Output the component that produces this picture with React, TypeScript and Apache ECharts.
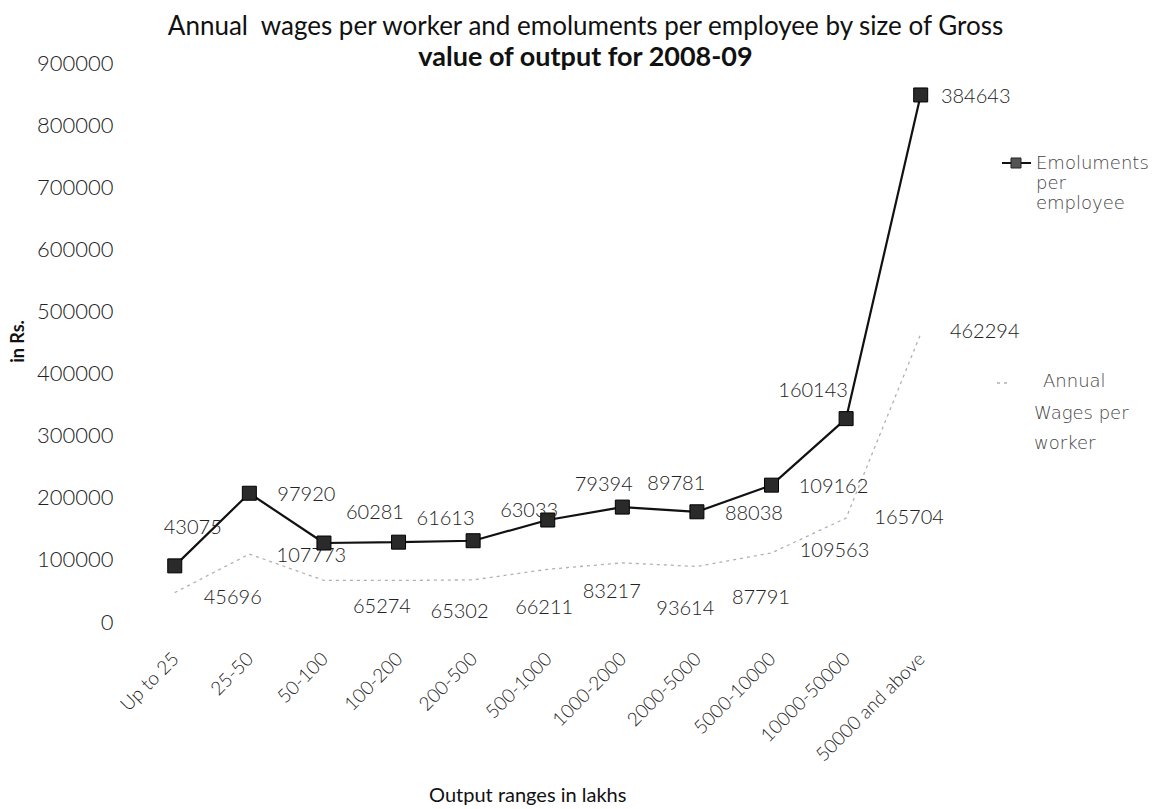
import React, { useEffect, useRef } from "react";
import * as echarts from "echarts";

const categories = [
  "Up to 25",
  "25-50",
  "50-100",
  "100-200",
  "200-500",
  "500-1000",
  "1000-2000",
  "2000-5000",
  "5000-10000",
  "10000-50000",
  "50000 and above",
];
const annualWages = [45696, 107773, 65274, 65302, 66211, 83217, 93614, 87791, 109563, 165704, 462294];
const emoluments = [43075, 97920, 60281, 61613, 63033, 79394, 89781, 88038, 109162, 160143, 384643];
const yMin = 0;
const yMax = 900000;
const yInterval = 100000;

// label placement (layout only)
const emoLabelOffsets = [
  [18, -40], [57, 0], [51, -32], [47, -25], [56, -32], [56, -37],
  [54, -25], [57, 0], [62, 0], [-33, -30], [55, 0],
];
const wageLabelOffsets = [
  [58, 3], [62, 0], [58, 25], [61, 30], [71, 26], [64, 21],
  [63, 44], [64, 30], [63, -4], [63, -2], [64, -4],
];

const FONT = "Lato";
const LEG_FONT = "DejaVu Sans";

export default function App() {
  const ref = useRef<HTMLDivElement>(null);
  useEffect(() => {
    if (!ref.current) return;
    const chart = echarts.init(ref.current, undefined, { renderer: "svg" });
    const labelStyle = {
      show: true,
      position: "inside" as const,
      align: "center" as const,
      verticalAlign: "middle" as const,
      fontFamily: FONT,
      fontSize: 20,
      fontWeight: 300 as any,
      color: "#222",
    };
    chart.setOption({
      animation: false,
      backgroundColor: "#ffffff",
      title: {
        text: "Annual  wages per worker and emoluments per employee by size of Gross\n{b|value of output for 2008-09}",
        left: "center",
        top: 4,
        textStyle: {
          fontFamily: FONT,
          fontSize: 26,
          fontWeight: "normal",
          color: "#111",
          lineHeight: 31,
          rich: {
            b: { fontFamily: FONT, fontSize: 27, fontWeight: "bold", color: "#111", lineHeight: 31 },
          },
        },
      },
      grid: { left: 117, right: 213, top: 62, bottom: 181, containLabel: false },
      xAxis: {
        type: "category",
        data: categories,
        boundaryGap: true,
        axisLine: { show: false },
        axisTick: { show: false },
        splitLine: { show: false },
        axisLabel: {
          rotate: 45,
          margin: 34,
          interval: 0,
          fontFamily: FONT,
          fontSize: 19,
          fontWeight: 300,
          color: "#222",
        },
        name: "Output ranges in lakhs",
        nameLocation: "middle",
        nameGap: 163,
        nameTextStyle: {
          fontFamily: FONT,
          fontSize: 20,
          color: "#111",
          padding: [0, 40, 0, 0],
        },
      },
      yAxis: {
        type: "value",
        min: yMin,
        max: yMax,
        interval: yInterval,
        axisLine: { show: false },
        axisTick: { show: false },
        splitLine: { show: false },
        axisLabel: {
          margin: 24,
          fontFamily: FONT,
          fontSize: 22,
          fontWeight: 300,
          color: "#222",
          formatter: (v: number) => String(v),
        },
        name: "in Rs.",
        nameLocation: "middle",
        nameRotate: 90,
        nameGap: 96,
        nameTextStyle: { fontFamily: FONT, fontSize: 18, fontWeight: "bold", color: "#111" },
      },
      series: [
        {
          name: "Annual Wages per worker",
          type: "line",
          stack: "total",
          data: annualWages.map((v, i) => ({
            value: v,
            label: { ...labelStyle, offset: wageLabelOffsets[i] },
          })),
          showSymbol: true,
          symbol: "circle",
          symbolSize: 2,
          itemStyle: { color: "rgba(180,180,180,0)" },
          lineStyle: { color: "#b0b0b0", width: 1.3, type: [3, 4] },
          label: labelStyle,
          z: 2,
        },
        {
          name: "Emoluments per employee",
          type: "line",
          stack: "total",
          data: emoluments.map((v, i) => ({
            value: v,
            label: { ...labelStyle, offset: emoLabelOffsets[i] },
          })),
          symbol: "rect",
          symbolSize: 14,
          itemStyle: { color: "#2a2a2a", borderColor: "#000", borderWidth: 1 },
          lineStyle: { color: "#111", width: 2.2 },
          label: labelStyle,
          z: 3,
        },
      ],
      graphic: [
        { type: "line", shape: { x1: 1002, y1: 163, x2: 1031, y2: 163 }, style: { stroke: "#111", lineWidth: 2 } },
        { type: "rect", shape: { x: 1011, y: 158, width: 10, height: 10 }, style: { fill: "#555", stroke: "#222", lineWidth: 1 } },
        {
          type: "text",
          x: 1036,
          y: 152,
          style: {
            text: "Emoluments\nper\nemployee",
            fontFamily: LEG_FONT,
            fontSize: 18,
            fontWeight: 200,
            lineHeight: 20,
            fill: "#444",
          },
        },
        { type: "line", shape: { x1: 997, y1: 383, x2: 1010, y2: 383 }, style: { stroke: "#b0b0b0", lineWidth: 1.3, lineDash: [3, 4] } },
        {
          type: "text",
          x: 1043,
          y: 371,
          style: { text: "Annual", fontFamily: LEG_FONT, fontSize: 18, fontWeight: 200, fill: "#444" },
        },
        {
          type: "text",
          x: 1034,
          y: 397,
          style: {
            text: "Wages per\nworker",
            fontFamily: LEG_FONT,
            fontSize: 18,
            fontWeight: 200,
            lineHeight: 30,
            fill: "#444",
          },
        },
      ],
    });
    return () => chart.dispose();
  }, []);
  return (
    <div
      ref={ref}
      style={{ position: "fixed", left: 0, top: 0, width: 1171, height: 809, background: "#fff" }}
    />
  );
}
